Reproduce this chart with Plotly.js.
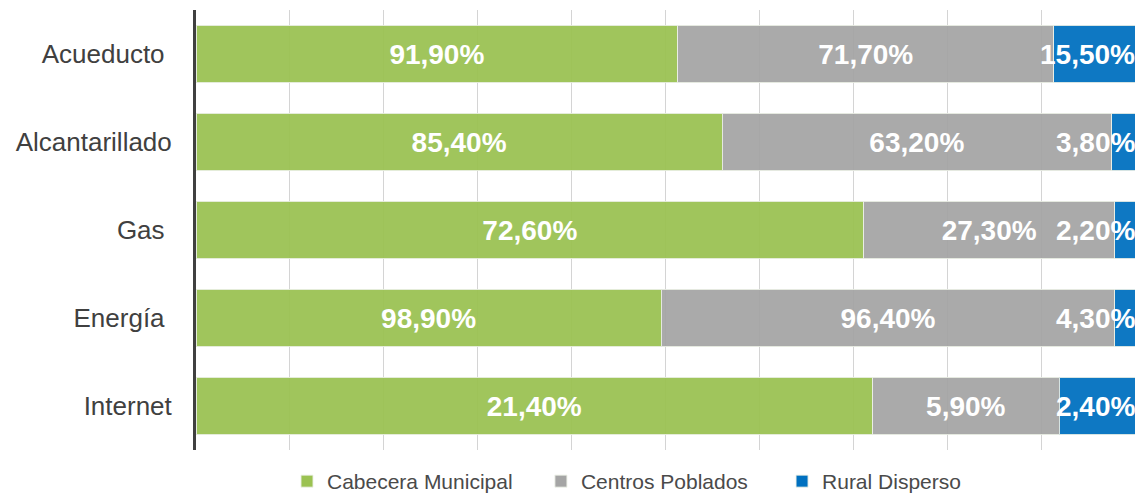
<!DOCTYPE html>
<html>
<head>
<meta charset="utf-8">
<script src="https://cdn.plot.ly/plotly-3.0.1.min.js"></script>
<style>
html,body{margin:0;padding:0;background:#fff;overflow:hidden;}
#chart{width:1137px;height:493px;}
</style>
</head>
<body>
<div id="chart"></div>
<script>
const categories = ["Acueducto", "Alcantarillado", "Gas", "Energía", "Internet"];
const tickLabels = ["Acueducto\u00a0", "Alcantarillado", "Gas\u00a0", "Energía\u00a0", "Internet"];
const cabeceraMunicipal = [91.9, 85.4, 72.6, 98.9, 21.4];
const centrosPoblados = [71.7, 63.2, 27.3, 96.4, 5.9];
const ruralDisperso = [15.5, 3.8, 2.2, 4.3, 2.4];
const seriesNames = ["Cabecera Municipal", "Centros Poblados", "Rural Disperso"];
const seriesColors = ["#9BC252", "#A5A5A5", "#0070C0"];

const fmt = v => v.toFixed(2).replace('.', ',') + '%';
const FONT = "Liberation Sans, Arial, sans-serif";
const labelFont = {family: FONT, size: 28, color: '#ffffff', weight: 'bold'};
const legendPads = ['\u00a0'.repeat(4), '\u00a0'.repeat(5), ''];

function mk(vals, i, withText) {
  return {
    type: 'bar',
    orientation: 'h',
    name: seriesNames[i] + legendPads[i],
    y: categories,
    x: vals,
    text: withText ? vals.map(fmt) : null,
    textposition: withText ? 'inside' : 'none',
    insidetextanchor: 'middle',
    constraintext: 'none',
    textangle: 0,
    textfont: labelFont,
    marker: {color: seriesColors[i], opacity: 0.94, line: {color: 'rgba(235,240,230,0.9)', width: 1}},
    hoverinfo: 'x+y+name'
  };
}

const data = [
  mk(cabeceraMunicipal, 0, true),
  mk(centrosPoblados, 1, true),
  mk(ruralDisperso, 2, false)
];

// labels for the last (narrow) segment, kept at the right end of the bar
const annotations = categories.map((c, k) => ({
  xref: 'x', yref: 'y',
  x: 100, y: c,
  text: fmt(ruralDisperso[k]),
  showarrow: false,
  xanchor: 'right',
  xshift: 2,
  font: labelFont
}));

const layout = {
  width: 1137, height: 493,
  margin: {l: 196, r: 2, t: 10, b: 43, pad: 0, autoexpand: false},
  barmode: 'stack',
  barnorm: 'percent',
  bargap: 0.35,
  paper_bgcolor: '#ffffff',
  plot_bgcolor: '#ffffff',
  font: {family: FONT, color: '#404040'},
  showlegend: true,
  annotations: annotations,
  legend: {
    orientation: 'h',
    xref: 'paper', yref: 'paper',
    x: 0.0969, xanchor: 'left',
    y: -0.025, yanchor: 'top',
    font: {family: FONT, size: 21, color: '#4A4A4A'},
    traceorder: 'normal',
    itemclick: false
  },
  xaxis: {
    range: [0, 100],
    dtick: 10,
    showticklabels: false,
    showgrid: true,
    gridcolor: '#D4D4D4',
    gridwidth: 1,
    zeroline: false,
    showline: false,
    ticks: '',
    fixedrange: true
  },
  yaxis: {
    type: 'category',
    categoryorder: 'array',
    categoryarray: categories,
    autorange: 'reversed',
    tickvals: categories,
    ticktext: tickLabels,
    tickfont: {family: FONT, size: 26, color: '#404040'},
    showline: true,
    linecolor: '#404040',
    linewidth: 3,
    ticks: '',
    ticklabelstandoff: 16,
    showgrid: false,
    zeroline: false,
    fixedrange: true
  }
};

Plotly.newPlot('chart', data, layout, {displayModeBar: false, staticPlot: true});
</script>
</body>
</html>
